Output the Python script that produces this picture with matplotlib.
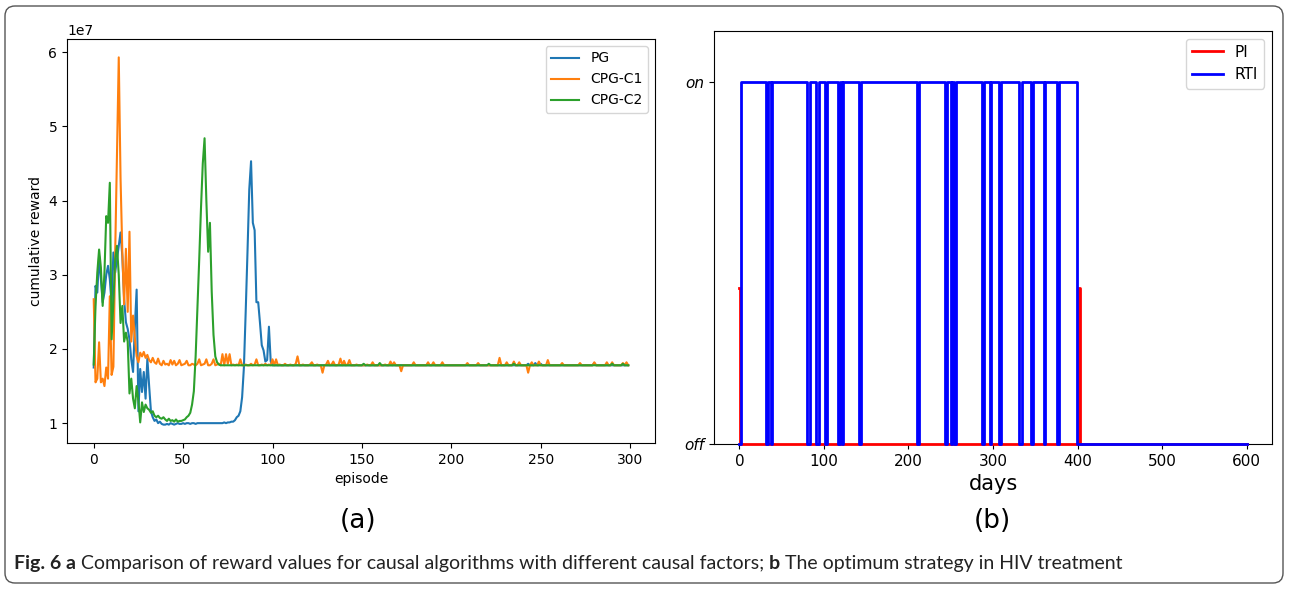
import numpy as np
import matplotlib
matplotlib.use("Agg")
import matplotlib.pyplot as plt
from matplotlib.patches import FancyBboxPatch
from matplotlib.transforms import IdentityTransform

W, H = 1289, 589

# ---- panel (a): cumulative reward per episode, in units of 1e7 ----
pg = [
    1.75, 2.85, 2.76, 3.25, 2.94, 2.63, 2.76, 3.0, 3.12, 2.94, 2.6, 3.3, 3.03, 3.21, 3.4, 3.57, 3.25, 2.67, 2.36, 2.27,
    2.13, 1.86, 1.69, 2.3, 2.8, 1.16, 1.73, 1.42, 1.69, 1.33, 1.87, 1.5, 1.16, 1.08, 1.03, 1.05, 1.0, 1.02, 0.99, 0.98,
    0.98, 0.99, 0.98, 1.0, 0.99, 0.98, 0.99, 1.0, 0.99, 0.99, 1.0, 0.99, 1.0, 1.0, 0.99, 1.0, 1.0, 0.99, 1.0, 1.0,
    1.0, 1.0, 1.0, 1.0, 1.0, 1.0, 1.0, 1.0, 1.0, 1.0, 1.0, 1.0, 1.0, 1.01, 1.0, 1.01, 1.01, 1.02, 1.02, 1.04,
    1.08, 1.1, 1.16, 1.35, 1.75, 2.5, 3.3, 4.15, 4.53, 3.7, 3.6, 2.63, 2.63, 2.35, 2.05, 1.98, 1.83, 1.85, 2.3, 1.83,
    1.78, 1.78, 1.78, 1.78, 1.78, 1.78, 1.78, 1.78, 1.78, 1.78, 1.78, 1.78, 1.78, 1.78, 1.78, 1.78, 1.78, 1.78, 1.78, 1.78,
    1.78, 1.78, 1.78, 1.78, 1.78, 1.78, 1.78, 1.78, 1.78, 1.78, 1.78, 1.78, 1.78, 1.78, 1.78, 1.78, 1.78, 1.78, 1.78, 1.78,
    1.78, 1.78, 1.78, 1.78, 1.78, 1.78, 1.78, 1.78, 1.78, 1.78, 1.78, 1.78, 1.78, 1.78, 1.78, 1.78, 1.78, 1.78, 1.78, 1.78,
    1.78, 1.78, 1.78, 1.78, 1.78, 1.78, 1.78, 1.78, 1.78, 1.78, 1.78, 1.78, 1.78, 1.78, 1.78, 1.78, 1.78, 1.78, 1.78, 1.78,
    1.78, 1.78, 1.78, 1.78, 1.78, 1.78, 1.78, 1.78, 1.78, 1.78, 1.78, 1.78, 1.78, 1.78, 1.78, 1.78, 1.78, 1.78, 1.78, 1.78,
    1.78, 1.78, 1.78, 1.78, 1.78, 1.78, 1.78, 1.78, 1.78, 1.78, 1.78, 1.78, 1.78, 1.78, 1.78, 1.78, 1.78, 1.78, 1.78, 1.78,
    1.78, 1.78, 1.78, 1.78, 1.78, 1.78, 1.78, 1.78, 1.78, 1.78, 1.78, 1.78, 1.78, 1.78, 1.78, 1.78, 1.78, 1.78, 1.78, 1.78,
    1.78, 1.78, 1.78, 1.8, 1.78, 1.78, 1.78, 1.81, 1.78, 1.78, 1.8, 1.78, 1.78, 1.78, 1.78, 1.78, 1.78, 1.78, 1.78, 1.78,
    1.78, 1.78, 1.78, 1.78, 1.78, 1.78, 1.78, 1.78, 1.78, 1.78, 1.78, 1.78, 1.78, 1.78, 1.78, 1.78, 1.78, 1.78, 1.78, 1.78,
    1.81, 1.78, 1.78, 1.78, 1.78, 1.78, 1.78, 1.78, 1.78, 1.78, 1.78, 1.78, 1.78, 1.78, 1.78, 1.78, 1.78, 1.78, 1.78, 1.78,
]

cpg_c1 = [
    2.67, 1.55, 1.6, 2.09, 1.55, 1.6, 1.5, 1.75, 1.6, 2.71, 1.65, 1.76, 3.3, 4.6, 5.93, 4.3, 3.3, 2.6, 3.35, 2.5,
    3.58, 2.1, 2.45, 2.15, 1.9, 1.82, 1.95, 1.9, 1.96, 1.88, 1.92, 1.85, 1.82, 1.88, 1.82, 1.8, 1.87, 1.8, 1.78, 1.84,
    1.79, 1.8, 1.78, 1.85, 1.79, 1.84, 1.78, 1.8, 1.85, 1.78, 1.79, 1.8, 1.84, 1.78, 1.78, 1.8, 1.79, 1.78, 1.8, 1.86,
    1.78, 1.79, 1.8, 1.86, 1.78, 1.78, 1.8, 1.86, 1.78, 1.79, 1.8, 1.78, 1.93, 1.78, 1.93, 1.8, 1.93, 1.78, 1.79, 1.78,
    1.79, 1.78, 1.86, 1.78, 1.78, 1.79, 1.78, 1.78, 1.8, 1.78, 1.79, 1.86, 1.78, 1.78, 1.79, 1.78, 1.8, 1.78, 1.79, 1.78,
    1.86, 1.78, 1.86, 1.78, 1.79, 1.78, 1.78, 1.8, 1.78, 1.78, 1.79, 1.78, 1.78, 1.8, 1.9, 1.78, 1.78, 1.79, 1.78, 1.78,
    1.78, 1.79, 1.82, 1.78, 1.78, 1.79, 1.78, 1.78, 1.68, 1.78, 1.79, 1.84, 1.78, 1.79, 1.83, 1.78, 1.78, 1.79, 1.87, 1.78,
    1.84, 1.78, 1.79, 1.85, 1.78, 1.78, 1.78, 1.79, 1.78, 1.78, 1.78, 1.78, 1.78, 1.79, 1.78, 1.78, 1.82, 1.78, 1.78, 1.78,
    1.78, 1.78, 1.78, 1.79, 1.78, 1.78, 1.83, 1.78, 1.82, 1.78, 1.78, 1.78, 1.7, 1.78, 1.78, 1.78, 1.78, 1.78, 1.78, 1.82,
    1.78, 1.78, 1.78, 1.78, 1.78, 1.78, 1.78, 1.82, 1.78, 1.78, 1.82, 1.78, 1.78, 1.78, 1.78, 1.82, 1.78, 1.78, 1.78, 1.78,
    1.78, 1.78, 1.78, 1.78, 1.78, 1.78, 1.78, 1.78, 1.78, 1.81, 1.78, 1.78, 1.78, 1.78, 1.78, 1.81, 1.78, 1.78, 1.78, 1.78,
    1.78, 1.78, 1.78, 1.78, 1.78, 1.78, 1.78, 1.88, 1.78, 1.78, 1.78, 1.82, 1.78, 1.78, 1.78, 1.83, 1.78, 1.78, 1.82, 1.78,
    1.78, 1.78, 1.78, 1.68, 1.78, 1.82, 1.78, 1.78, 1.78, 1.83, 1.78, 1.78, 1.78, 1.78, 1.85, 1.78, 1.78, 1.78, 1.78, 1.78,
    1.78, 1.78, 1.81, 1.78, 1.78, 1.78, 1.78, 1.78, 1.78, 1.78, 1.78, 1.78, 1.81, 1.78, 1.78, 1.78, 1.78, 1.78, 1.78, 1.78,
    1.82, 1.78, 1.78, 1.78, 1.78, 1.78, 1.78, 1.82, 1.78, 1.78, 1.82, 1.78, 1.78, 1.78, 1.78, 1.78, 1.81, 1.78, 1.82, 1.78,
]

cpg_c2 = [
    1.79, 2.58, 3.03, 3.34, 3.1, 2.58, 3.03, 3.79, 3.7, 4.24, 2.13, 2.63, 3.21, 3.39, 3.0, 2.35, 2.58, 2.1, 2.22, 2.1,
    1.4, 1.6, 1.33, 1.2, 1.5, 1.3, 1.01, 1.28, 1.15, 1.25, 1.2, 1.18, 1.14, 1.16, 1.1, 1.08, 1.1, 1.07, 1.06, 1.08,
    1.05, 1.03, 1.06, 1.03, 1.04, 1.02, 1.05, 1.02, 1.03, 1.03, 1.04, 1.05, 1.08, 1.1, 1.14, 1.25, 1.43, 1.9, 2.55, 3.2,
    3.9, 4.5, 4.84, 4.0, 3.31, 3.7, 2.77, 2.19, 1.9, 1.82, 1.79, 1.78, 1.78, 1.78, 1.78, 1.78, 1.78, 1.78, 1.78, 1.78,
    1.78, 1.78, 1.78, 1.78, 1.78, 1.78, 1.78, 1.78, 1.78, 1.78, 1.78, 1.78, 1.78, 1.78, 1.78, 1.78, 1.78, 1.78, 1.78, 1.78,
    1.78, 1.78, 1.78, 1.78, 1.78, 1.78, 1.78, 1.78, 1.78, 1.78, 1.78, 1.78, 1.78, 1.78, 1.78, 1.78, 1.78, 1.78, 1.78, 1.78,
    1.78, 1.78, 1.78, 1.78, 1.78, 1.78, 1.78, 1.78, 1.78, 1.78, 1.78, 1.78, 1.78, 1.78, 1.78, 1.78, 1.78, 1.78, 1.78, 1.78,
    1.78, 1.78, 1.78, 1.78, 1.78, 1.78, 1.78, 1.78, 1.78, 1.78, 1.78, 1.8, 1.78, 1.78, 1.78, 1.78, 1.78, 1.78, 1.78, 1.78,
    1.81, 1.78, 1.78, 1.78, 1.78, 1.78, 1.78, 1.78, 1.78, 1.78, 1.78, 1.78, 1.78, 1.78, 1.78, 1.78, 1.78, 1.78, 1.78, 1.78,
    1.78, 1.78, 1.78, 1.78, 1.78, 1.78, 1.78, 1.78, 1.78, 1.78, 1.78, 1.78, 1.78, 1.78, 1.78, 1.78, 1.78, 1.78, 1.78, 1.78,
    1.78, 1.78, 1.78, 1.78, 1.78, 1.78, 1.78, 1.78, 1.78, 1.78, 1.78, 1.78, 1.78, 1.78, 1.78, 1.78, 1.78, 1.78, 1.78, 1.78,
    1.78, 1.8, 1.78, 1.78, 1.78, 1.78, 1.78, 1.78, 1.78, 1.78, 1.78, 1.78, 1.78, 1.78, 1.78, 1.8, 1.78, 1.78, 1.78, 1.78,
    1.78, 1.78, 1.78, 1.78, 1.78, 1.78, 1.78, 1.78, 1.78, 1.78, 1.78, 1.78, 1.78, 1.78, 1.78, 1.78, 1.78, 1.78, 1.78, 1.78,
    1.78, 1.78, 1.78, 1.78, 1.78, 1.78, 1.78, 1.78, 1.78, 1.78, 1.78, 1.78, 1.78, 1.78, 1.78, 1.78, 1.78, 1.78, 1.78, 1.78,
    1.78, 1.78, 1.78, 1.78, 1.78, 1.78, 1.78, 1.78, 1.78, 1.78, 1.8, 1.78, 1.78, 1.78, 1.78, 1.78, 1.8, 1.78, 1.78, 1.78,
]

# ---- panel (b): drug switching over days (step changes) ----
pi_days = [0, 1, 401, 403, 600]
pi_level = [0.43, 0, 0.43, 0, 0]

rti_days = [0, 2, 32, 34, 37, 39, 80, 83, 91, 94, 101, 104, 117, 119, 121, 123, 142, 144,
            210, 212, 243, 246, 250, 252, 254, 256, 287, 289, 296, 298, 307, 309, 331, 334,
            345, 347, 360, 362, 376, 378, 399, 600]
rti_level = [0, 1, 0, 1, 0, 1, 0, 1, 0, 1, 0, 1, 0, 1, 0, 1, 0, 1,
             0, 1, 0, 1, 0, 1, 0, 1, 0, 1, 0, 1, 0, 1, 0, 1,
             0, 1, 0, 1, 0, 1, 0, 0]

fig = plt.figure(figsize=(W / 100, H / 100), dpi=100)

# rounded frame around the whole figure
frame = FancyBboxPatch((5, 6), 1278, 577, boxstyle="round,pad=0,rounding_size=10",
                       transform=IdentityTransform(), facecolor="none",
                       edgecolor="#555555", linewidth=1)
fig.patches.append(frame)

ax1 = fig.add_axes([67 / W, 1 - 443 / H, 588 / W, 404 / H])
episodes = np.arange(len(pg))
ax1.plot(episodes, np.array(pg) * 1e7, label="PG")
ax1.plot(episodes, np.array(cpg_c1) * 1e7, label="CPG-C1")
ax1.plot(episodes, np.array(cpg_c2) * 1e7, label="CPG-C2")
ax1.set_xlabel("episode", fontsize=10)
ax1.set_ylabel("cumulative reward", fontsize=10)
ax1.tick_params(labelsize=10)
ax1.legend(loc="upper right", fontsize=10)

ax2 = fig.add_axes([714 / W, 1 - 444 / H, 558 / W, 413 / H])
ax2.step(pi_days, pi_level, where="post", color="red", lw=2, label="PI",
         clip_on=False, zorder=3)
ax2.step(rti_days, rti_level, where="post", color="blue", lw=2, label="RTI",
         clip_on=False, zorder=3.1)
ax2.set_xlim(-30, 630)
ax2.set_ylim(0, 1.14)
ax2.set_yticks([0, 1])
ax2.set_yticklabels(["off", "on"], style="italic", fontsize=11)
ax2.tick_params(axis="x", labelsize=11)
ax2.set_xlabel("days", fontsize=15)
ax2.legend(loc="upper right", fontsize=11)

fig.text(358 / W, 1 - 521 / H, "(a)", fontsize=19, ha="center", va="center")
fig.text(992 / W, 1 - 521 / H, "(b)", fontsize=19, ha="center", va="center")

# caption with bold panel letters
pieces = [("Fig. 6 a", "bold"),
          (" Comparison of reward values for causal algorithms with different causal factors; ", "normal"),
          ("b", "bold"),
          (" The optimum strategy in HIV treatment", "normal")]
renderer = fig.canvas.get_renderer()
x = 14
for txt, weight in pieces:
    t = fig.text(x / W, 20 / H, txt, fontsize=14, fontweight=weight,
                 family="Lato", va="baseline", ha="left", color="#222222")
    x += t.get_window_extent(renderer).width

fig.savefig("out.png", dpi=100)
